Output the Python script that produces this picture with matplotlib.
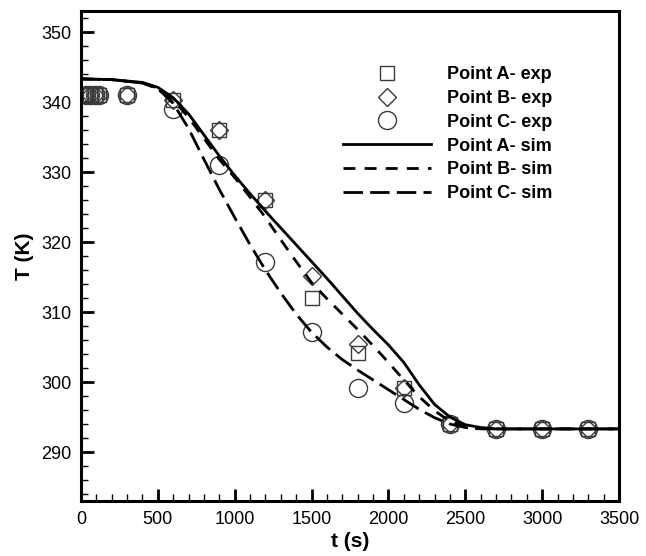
import matplotlib
matplotlib.use("Agg")
import matplotlib.pyplot as plt
from matplotlib.ticker import MultipleLocator

plt.rcParams['font.family'] = ['Liberation Sans', 'DejaVu Sans']

# ---- data ----
t_exp = [30, 60, 90, 120, 300, 600, 900, 1200, 1500, 1800, 2100, 2400, 2700, 3000, 3300]
A_exp = [341.0, 341.0, 341.0, 341.0, 341.0, 340.3, 336.0, 326.0, 312.0, 304.1, 299.2, 294.0, 293.3, 293.3, 293.3]
B_exp = [341.0, 341.0, 341.0, 341.0, 341.0, 340.3, 336.0, 326.0, 315.2, 305.5, 299.2, 294.0, 293.3, 293.3, 293.3]
C_exp = [341.0, 341.0, 341.0, 341.0, 341.0, 339.0, 331.0, 317.2, 307.1, 299.2, 297.0, 294.0, 293.3, 293.3, 293.3]

t_sim = [0, 200, 400, 500, 600, 700, 800, 900, 1000, 1100, 1200, 1300, 1400, 1500,
         1600, 1700, 1800, 1900, 2000, 2100, 2200, 2300, 2400, 2500, 2600, 2700, 3000, 3500]
A_sim = [343.3, 343.2, 342.8, 342.1, 340.6, 338.3, 335.3, 332.3, 329.5, 326.9, 324.4, 322.0, 319.6, 317.2,
         314.8, 312.3, 309.8, 307.5, 305.3, 302.8, 299.6, 296.8, 295.0, 293.9, 293.5, 293.3, 293.3, 293.3]
B_sim = [343.3, 343.2, 342.7, 342.0, 340.3, 337.8, 334.8, 331.8, 329.2, 326.4, 323.5, 320.3, 317.2, 314.2,
         311.9, 309.7, 307.5, 305.2, 302.8, 300.3, 297.9, 295.9, 294.4, 293.7, 293.4, 293.3, 293.3, 293.3]
C_sim = [343.3, 343.2, 342.7, 341.9, 339.8, 336.2, 331.8, 327.5, 323.5, 319.6, 316.0, 312.7, 309.7, 307.1,
         305.0, 303.2, 301.7, 300.3, 298.9, 297.5, 296.1, 294.9, 294.0, 293.5, 293.3, 293.3, 293.3, 293.3]

x_label = "t (s)"
y_label = "T (K)"

fig = plt.figure(figsize=(6.46, 5.56), dpi=100)
ax = fig.add_axes([0.1254, 0.0989, 0.8328, 0.8813])

mk_kw = dict(linestyle='none', markerfacecolor='none', markeredgecolor='#3a3a3a', markeredgewidth=1.0)
ax.plot(t_exp, A_exp, marker='s', markersize=10, label='Point A- exp', **mk_kw)
ax.plot(t_exp, B_exp, marker='D', markersize=9, label='Point B- exp', **mk_kw)
ax.plot(t_exp, C_exp, marker='o', markersize=13, label='Point C- exp', **mk_kw)

ax.plot(t_sim, A_sim, color='black', lw=2.0, linestyle='-', label='Point A- sim')
ax.plot(t_sim, B_sim, color='black', lw=2.0, linestyle=(0, (4.3, 3.3)), label='Point B- sim')
ax.plot(t_sim, C_sim, color='black', lw=2.0, linestyle=(0, (7, 2.6)), label='Point C- sim')

ax.set_xlim(0, 3500)
ax.set_ylim(283.0, 353.0)
ax.xaxis.set_major_locator(MultipleLocator(500))
ax.xaxis.set_minor_locator(MultipleLocator(100))
ax.yaxis.set_major_locator(MultipleLocator(10))
ax.yaxis.set_minor_locator(MultipleLocator(2))
ax.tick_params(which='both', direction='in', top=False, right=False, labelsize=13, pad=7)
ax.tick_params(which='major', length=9, width=2.0)
ax.tick_params(which='minor', length=5, width=1.0)
for s in ax.spines.values():
    s.set_linewidth(2.2)

ax.set_xlabel(x_label, fontsize=15, fontweight='bold', labelpad=3)
ax.set_ylabel(y_label, fontsize=15, fontweight='bold', labelpad=5)

leg = ax.legend(loc='upper left', bbox_to_anchor=(343/646, 1 - 66/556), bbox_transform=fig.transFigure,
                frameon=False, fontsize=13, handlelength=4.85, handletextpad=0.9,
                labelspacing=0.38, borderpad=0, borderaxespad=0)
for txt in leg.get_texts():
    txt.set_fontweight('bold')

fig.savefig('out.png', dpi=100)
